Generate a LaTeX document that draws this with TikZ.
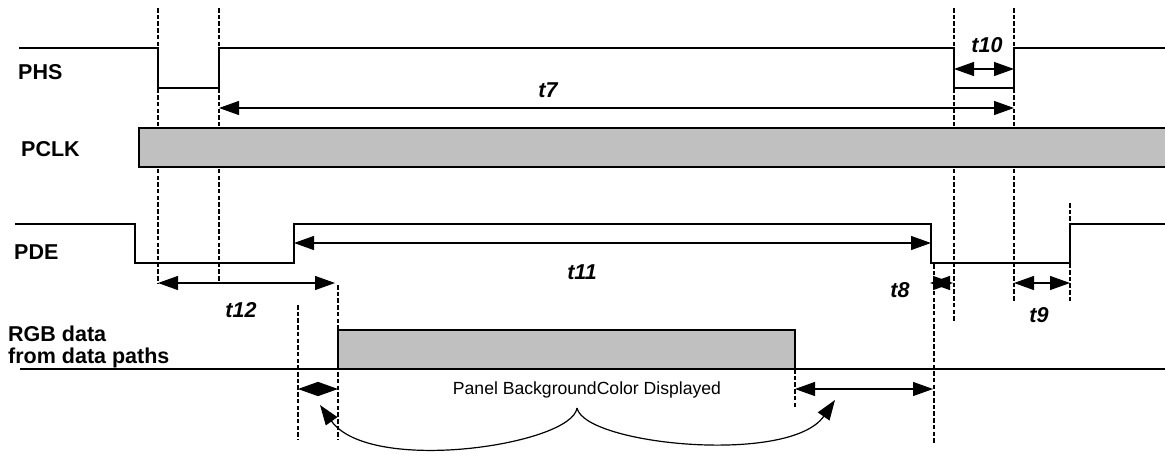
\documentclass[tikz,border=0pt]{standalone}
\usepackage{fontspec}
\setmainfont{Liberation Sans}
\usetikzlibrary{arrows.meta}
\definecolor{busgray}{HTML}{C0C0C0}
\begin{document}
\begin{tikzpicture}[x=1pt,y=-1pt,
  sig/.style={line width=1.4pt, line join=miter},
  dsh/.style={line width=1.1pt, dash pattern=on 4.5pt off 2.2pt},
  dim/.style={line width=1.2pt, {Triangle[length=20pt,width=14pt]}-{Triangle[length=20pt,width=14pt]}},
  curv/.style={line width=1.2pt, -{Triangle[length=20pt,width=14pt]}},
  lab/.style={font=\fontsize{21.5}{25}\selectfont\bfseries, anchor=west, inner sep=0pt, align=left},
  tlab/.style={font=\fontsize{21.5}{25}\selectfont\bfseries\itshape, inner sep=0pt},
  plain/.style={font=\fontsize{17.6}{21}\selectfont, inner sep=0pt}]
\useasboundingbox (0,0) rectangle (1165,453);

% dashed reference lines
\coordinate (d1a) at (158,8);   \coordinate (d1b) at (158,283);
\coordinate (d2a) at (219,8);   \coordinate (d2b) at (219,283);
\coordinate (d3a) at (954,8);   \coordinate (d3b) at (954,322);
\coordinate (d4a) at (1014,8);  \coordinate (d4b) at (1014,302);
\coordinate (d5a) at (1070,203);\coordinate (d5b) at (1070,302);
\coordinate (d6a) at (298,305); \coordinate (d6b) at (298,440);
\coordinate (d7a) at (338,285); \coordinate (d7b) at (338,440);
\coordinate (d8a) at (934,264); \coordinate (d8b) at (934,443);
\coordinate (d9a) at (795,369); \coordinate (d9b) at (795,409);
\foreach \a/\b in {d1a/d1b,d2a/d2b,d3a/d3b,d4a/d4b,d5a/d5b,d6a/d6b,d7a/d7b,d8a/d8b,d9a/d9b}
  \draw[dsh] (\a) -- (\b);

% labels
\node[lab] (phs) at (18,72) {PHS};
\node[lab] (pclk) at (21,149) {PCLK};
\node[lab] (pde) at (14,252) {PDE};
\node[lab] (rgb) at (8,347) {RGB data\\[-3pt]from data paths};

% PHS
\draw[sig] (19,48) -- (158,48) -- (158,88) -- (219,88) -- (219,48) -- (954,48)
  -- (954,88) -- (1014,88) -- (1014,48) -- (1166,48);

% PCLK bus
\draw[sig, fill=busgray] (1170,128) -- (139,128) -- (139,167) -- (1170,167);

% PDE
\draw[sig] (15,224) -- (135,224) -- (135,263) -- (294,263) -- (294,224) -- (931,224)
  -- (931,263) -- (1070,263) -- (1070,224) -- (1166,224);

% RGB data
\draw[sig, fill=busgray] (338,369) -- (338,330) -- (795,330) -- (795,369);
\draw[sig] (20,369) -- (1166,369);

% dimension arrows
\coordinate (t7a) at (219,108);  \coordinate (t7b) at (1014,108);
\coordinate (t10a) at (954,69);  \coordinate (t10b) at (1014,69);
\coordinate (t11a) at (294,243); \coordinate (t11b) at (931,243);
\coordinate (t12a) at (158,283); \coordinate (t12b) at (335,283);
\coordinate (t8a) at (930,283);  \coordinate (t8b) at (953,283);
\coordinate (t9a) at (1014,283); \coordinate (t9b) at (1070,283);
\coordinate (bga) at (298,389);  \coordinate (bgb) at (338,389);
\coordinate (bgc) at (795,389);  \coordinate (bgd) at (933,389);
\draw[dim] (t7a) -- (t7b);
\draw[dim] (t10a) -- (t10b);
\draw[dim] (t11a) -- (t11b);
\draw[dim] (t12a) -- (t12b);
\draw[dim] (t8a) -- (t8b);
\draw[dim] (t9a) -- (t9b);
\draw[dim] (bga) -- (bgb);
\draw[dim] (bgc) -- (bgd);

\node[tlab] (lt7) at (548,90) {t7};
\node[tlab] (lt10) at (987,45) {t10};
\node[tlab] (lt11) at (582,272) {t11};
\node[tlab] (lt12) at (241,310) {t12};
\node[tlab] (lt8) at (900,290) {t8};
\node[tlab] (lt9) at (1039,315) {t9};

\node[plain] (bgtxt) at (587,390) {Panel BackgroundColor Displayed};

% brace-like curves
\coordinate (cusp) at (577,408);
\coordinate (cl) at (320,405);
\coordinate (cr) at (835,400);
\draw[curv] (cusp) .. controls (572,445) and (370,475) .. (cl);
\draw[curv] (cusp) .. controls (585,445) and (790,465) .. (cr);
\end{tikzpicture}
\end{document}
